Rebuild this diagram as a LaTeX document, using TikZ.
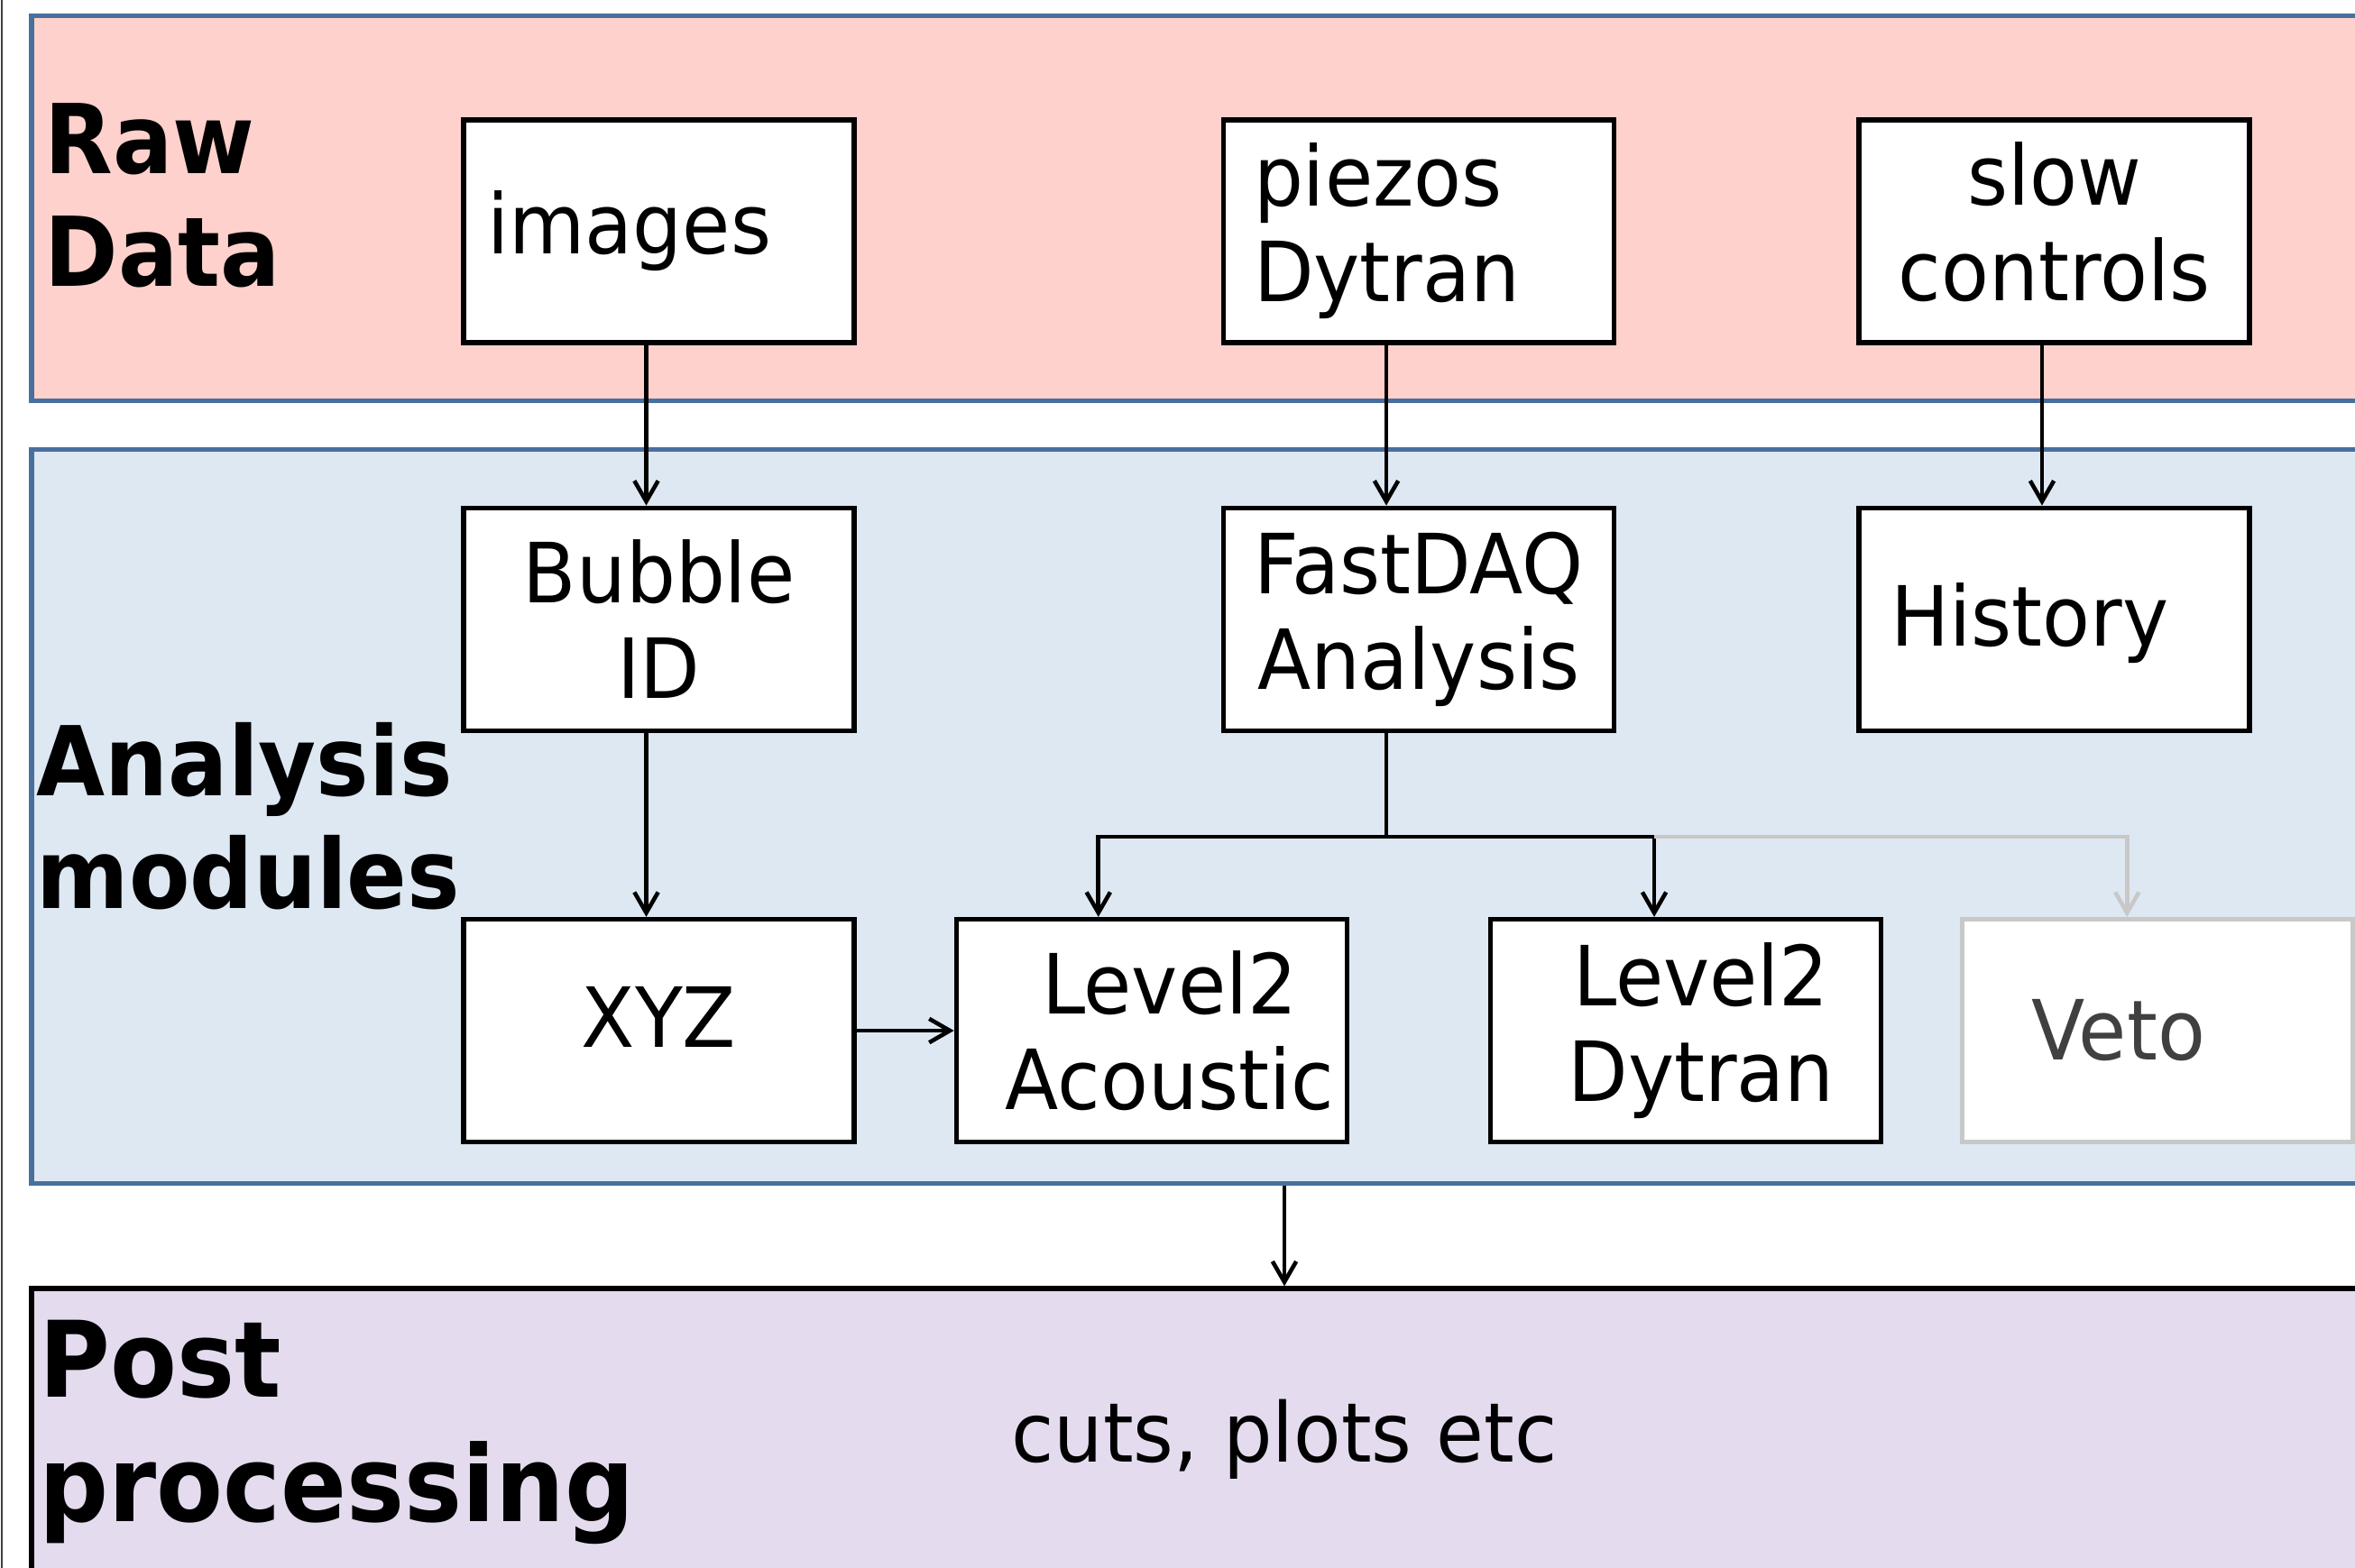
\documentclass[tikz,border=0pt]{standalone}
\usepackage{fontspec}
\setmainfont{DejaVu Sans}[FakeStretch=0.94, BoldFeatures={FakeStretch=0.92}]
\usepackage{tikz}
\usetikzlibrary{arrows.meta,positioning}
\definecolor{rawpink}{RGB}{255,209,204}
\definecolor{anablue}{RGB}{222,232,242}
\definecolor{postlilac}{RGB}{229,219,238}
\definecolor{bandedge}{RGB}{72,112,158}
\definecolor{vetogray}{RGB}{200,200,200}
\definecolor{vetotext}{RGB}{64,64,64}
\tikzstyle{band} = [rectangle, draw=bandedge, line width=1.5pt, inner sep=0pt]
\tikzstyle{block} = [rectangle, draw, fill=white, line width=1.5pt,
  minimum width=4.33cm, minimum height=2.47cm, inner sep=0pt, align=center,
  font=\fontsize{26.2}{30.2}\selectfont]
\tikzstyle{header} = [anchor=north west, inner sep=0pt, align=left,
  font=\fontsize{30.4}{35.6}\selectfont\bfseries]
\tikzstyle{wire} = [draw, line width=1.3pt]
\tikzstyle{line} = [wire, -{Straight Barb[length=6.5pt,width=7.5pt]}]

\begin{document}
\begin{tikzpicture}

  \useasboundingbox (0,0) rectangle (26.11,-17.39);
  \draw[line width=0.6pt, black!75] (0.02,0) -- (0.02,-17.39);

  %%%%%%%%%%%%%%%%%%%%%%%%%%%%%%%%%%%%%%%%%%%%%%%%%%%%%%%%%%%%%%
  %                    BANDS                                   %
  %%%%%%%%%%%%%%%%%%%%%%%%%%%%%%%%%%%%%%%%%%%%%%%%%%%%%%%%%%%%%%

  \node [band, fill=rawpink, minimum width=26.1cm, minimum height=4.27cm] (raw-band) at (13.4,-2.31) {};
  \node [band, fill=anablue, minimum width=26.1cm, minimum height=8.14cm] (analysis-band) at (13.4,-9.055) {};
  \node [band, draw=black, fill=postlilac, minimum width=26.1cm, minimum height=3.4cm] (post-band) at (13.4,-15.99) {};

  \node [header] (raw-header) at (0.49,-1.14) {Raw\\Data};
  \node [header] (analysis-header) at (0.40,-8.01) {Analysis\\modules};
  \node [header, font=\fontsize{33.3}{39.5}\selectfont\bfseries] (post-header) at (0.43,-14.63) {Post\\processing};

  %%%%%%%%%%%%%%%%%%%%%%%%%%%%%%%%%%%%%%%%%%%%%%%%%%%%%%%%%%%%%%
  %                    RAW DATA                                %
  %%%%%%%%%%%%%%%%%%%%%%%%%%%%%%%%%%%%%%%%%%%%%%%%%%%%%%%%%%%%%%

  \node [block, text width=3.8cm, align=left] (images) at (7.305,-2.565) {images};
  \node [block, text width=3.66cm, align=left] (piezos) at (15.73,-2.565) {piezos\\Dytran};
  \node [block, text depth=0.22cm] (slow-controls) at (22.775,-2.565) {slow\\controls};

  %%%%%%%%%%%%%%%%%%%%%%%%%%%%%%%%%%%%%%%%%%%%%%%%%%%%%%%%%%%%%%
  %                    ANALYSIS MODULES                        %
  %%%%%%%%%%%%%%%%%%%%%%%%%%%%%%%%%%%%%%%%%%%%%%%%%%%%%%%%%%%%%%

  \node [block, below = 1.78cm of images] (bubble-id) {Bubble\\ID};
  \node [block, below = 1.78cm of piezos] (fastdaq) {FastDAQ\\Analysis};
  \node [block, text width=3.62cm, align=left, text depth=0.1cm,
    below = 1.78cm of slow-controls] (history) {History};

  \node [block, text depth=0.3cm, below = 2.04cm of bubble-id] (xyz) {XYZ};
  \node [block, right = 1.08cm of xyz] (level2-acoustic) {\hspace*{0.4cm}Level2\\\hspace*{0.4cm}Acoustic};
  \node [block, right = 1.54cm of level2-acoustic] (level2-dytran) {\hspace*{0.34cm}Level2\\\hspace*{0.34cm}Dytran};
  \node [block, draw=vetogray, text=vetotext, text width=2.8cm, align=left,
    right = 0.85cm of level2-dytran] (veto) {Veto};

  %%%%%%%%%%%%%%%%%%%%%%%%%%%%%%%%%%%%%%%%%%%%%%%%%%%%%%%%%%%%%%
  %                    POST PROCESSING                         %
  %%%%%%%%%%%%%%%%%%%%%%%%%%%%%%%%%%%%%%%%%%%%%%%%%%%%%%%%%%%%%%

  \node [font=\fontsize{26}{30}\selectfont] (cuts) at (14.24,-15.96) {cuts, plots etc};

  % connectors
  \coordinate (acoustic-in) at ([xshift=-5.9mm]level2-acoustic.north);
  \coordinate (dytran-in) at ([xshift=-3.5mm]level2-dytran.north);
  \coordinate (veto-in) at ([xshift=-3.4mm]veto.north);

  \draw[line] ([xshift=-1.4mm]images.south) -- ([xshift=-1.4mm]bubble-id.north);
  \draw[line] ([xshift=-3.6mm]piezos.south) -- ([xshift=-3.6mm]fastdaq.north);
  \draw[line] ([xshift=-1.35mm]slow-controls.south) -- ([xshift=-1.35mm]history.north);
  \draw[line] ([xshift=-1.4mm]bubble-id.south) -- ([xshift=-1.4mm]xyz.north);
  \draw[line] (xyz) -- (level2-acoustic);

  \draw[wire] ([xshift=-3.6mm]fastdaq.south) -- ++(0,-1.15) coordinate (split);
  \draw[line] (split) -| (acoustic-in);
  \draw[line] (split) -| (dytran-in);
  \draw[line, vetogray] (dytran-in |- split) -| (veto-in);

  \draw[line] (analysis-band.south -| cuts) -- (post-band.north -| cuts);

\end{tikzpicture}
\end{document}
